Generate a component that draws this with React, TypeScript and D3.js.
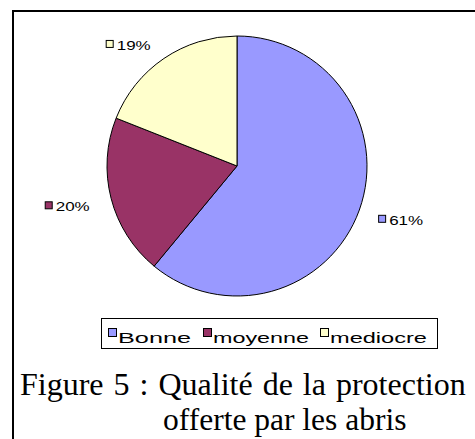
import React, { useEffect } from 'react';
import * as d3 from 'd3';

const categories = ['Bonne', 'moyenne', 'mediocre'];
const values = [61, 20, 19];
const labels = ['61%', '20%', '19%'];
const colors = ['#9999FF', '#993366', '#FFFFCC'];

const captionLines = ['Figure 5 : Qualité de la protection', 'offerte par les abris'];

const W = 475;
const H = 439;
const cx = 237;
const cy = 166;
const radius = 130;
const labelRadius = 150;

export default function App() {
  useEffect(() => {
    document.body.style.margin = '0';
  }, []);

  const pie = d3.pie<number>().value(d => d).sort(null);
  const arcs = pie(values);
  const arc = d3.arc<d3.PieArcDatum<number>>().innerRadius(0).outerRadius(radius);
  const labelArc = d3.arc<d3.PieArcDatum<number>>().innerRadius(labelRadius).outerRadius(labelRadius);

  const labelFont = "'Liberation Sans', Arial, sans-serif";
  const serif = "'Times New Roman', 'Liberation Serif', serif";
  const legendX = [108, 203, 320];
  const legendTextLen = [73, 96, 97];

  return (
    <svg width={W} height={H} style={{ display: 'block', background: '#fff' }}>
      {/* frame */}
      <line x1={12} x2={W} y1={11} y2={11} stroke="#000" strokeWidth={2} />
      <line x1={13} x2={13} y1={10} y2={H} stroke="#000" strokeWidth={2} />

      <g transform={`translate(${cx},${cy})`}>
        {arcs.map((a, i) => (
          <path key={categories[i]} d={arc(a) || ''} fill={colors[i]} stroke="#000" strokeWidth={1} />
        ))}
        {arcs.map((a, i) => {
          const [lx, ly] = labelArc.centroid(a);
          const right = lx > 0;
          const boxW = 47;
          const x0 = right ? lx : lx - boxW;
          return (
            <g key={labels[i]} transform={`translate(${x0},${ly + 3})`}>
              <rect x={0.5} y={-4.5} width={7} height={7} fill={colors[i]} stroke="#000" strokeWidth={1} />
              <text x={11} y={5} fontFamily={labelFont} fontSize={13} textLength={34} lengthAdjust="spacingAndGlyphs" fill="#000">
                {labels[i]}
              </text>
            </g>
          );
        })}
      </g>

      {/* legend */}
      <rect x={101.5} y={318.5} width={336} height={30} fill="#fff" stroke="#000" strokeWidth={1} />
      {categories.map((c, i) => (
        <g key={c}>
          <rect x={legendX[i] + 0.5} y={328.5} width={8} height={8} fill={colors[i]} stroke="#000" strokeWidth={1} />
          <text x={legendX[i] + 10} y={343} fontFamily={labelFont} fontSize={15} textLength={legendTextLen[i]} lengthAdjust="spacingAndGlyphs" fill="#000">
            {c}
          </text>
        </g>
      ))}

      {/* caption */}
      <text x={20} y={395} fontFamily={serif} fontSize={32} wordSpacing={2} fill="#000">
        {captionLines[0]}
      </text>
      <text x={163} y={430} fontFamily={serif} fontSize={31.5} fill="#000">
        {captionLines[1]}
      </text>
    </svg>
  );
}
